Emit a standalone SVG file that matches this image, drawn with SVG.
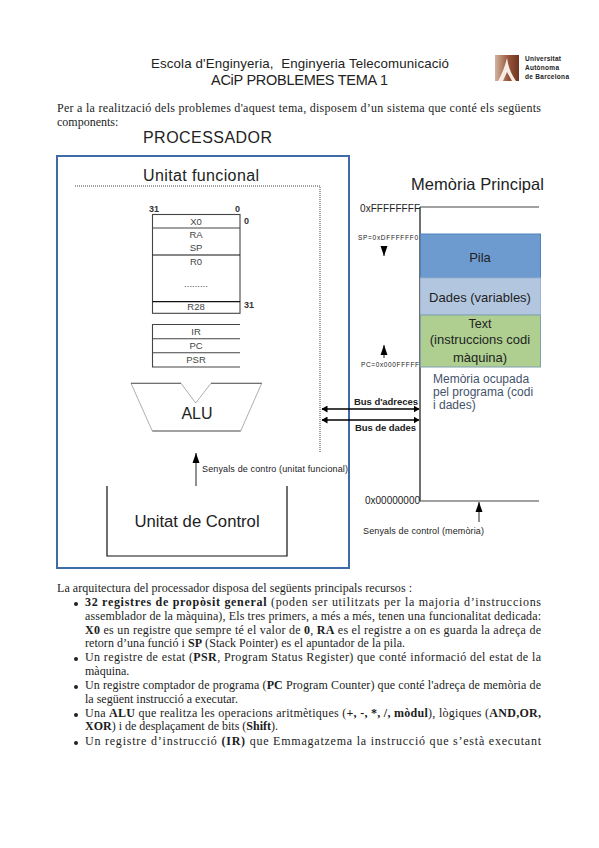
<svg xmlns="http://www.w3.org/2000/svg" width="599" height="848" viewBox="0 0 599 848">
<style>
text{fill:#222}
.s{font-family:"Liberation Sans",Arial,sans-serif}
.r{font-family:"Liberation Serif","Times New Roman",serif;font-size:12px;fill:#1c1c1c}
.c{text-anchor:middle}
.b{font-weight:bold}
.reg{font-size:9.5px;fill:#444;text-anchor:middle}
.n{font-size:9px;font-weight:bold;fill:#333}
.l{stroke:#444;stroke-width:1.1;fill:none}
.k{stroke:#111;stroke-width:1.2;fill:none}
.thin{stroke:#999;stroke-width:.8;fill:none}
.dot{stroke:#444;stroke-width:1;stroke-dasharray:1 1;fill:none}
.wire{stroke:#000;stroke-width:1.6;fill:none}
.sig{stroke:#222;stroke-width:1;fill:none}
.m{font-size:13px}
.oc{font-size:12px;fill:#44546a}
</style>
<defs>
<marker id="ah" markerUnits="userSpaceOnUse" markerWidth="7" markerHeight="7" refX="5.5" refY="3.5" orient="auto-start-reverse"><path d="M0 0L6 3.5L0 7Z" fill="#000"/></marker>
<marker id="au" markerUnits="userSpaceOnUse" markerWidth="10" markerHeight="8" refX="10" refY="4" orient="auto"><path d="M0 .5L10 4L0 7.500Z" fill="#000"/></marker>
<linearGradient id="lg" x1="0" x2="1" y1="0" y2="0"><stop offset="0" stop-color="#d3b29c"/><stop offset=".55" stop-color="#96563a"/><stop offset="1" stop-color="#6f3520"/></linearGradient>
</defs>

<g id="header">
<text class="s" x="151" y="68" font-size="13.300" textLength="298" xml:space="preserve">Escola d'Enginyeria,  Enginyeria Telecomunicació</text>
<text class="s" x="211" y="85" font-size="14.500" textLength="177">ACiP PROBLEMES TEMA 1</text>
</g>
<g id="logo">
<rect x="495" y="55" width="24" height="26" fill="url(#lg)"/>
<path d="M498 81C502 74 505 66 507 58C508 66 511 74 516 81L512 81L507 72L503 81Z" fill="#f6ece4"/>
<text class="s b" x="525" y="61" font-size="6.500" fill="#333" textLength="36">Universitat</text>
<text class="s b" x="525" y="70" font-size="6.500" fill="#333" textLength="34">Autònoma</text>
<text class="s b" x="525" y="79" font-size="6.500" fill="#333" textLength="44">de Barcelona</text>
</g>
<g id="intro">
<text class="r" x="57" y="112" textLength="484">Per a la realització dels problemes d'aquest tema, disposem d’un sistema que conté els següents</text>
<text class="r" x="57" y="126">components:</text>
</g>
<g id="processador-title"><text class="s" x="143" y="143" font-size="16" textLength="129">PROCESSADOR</text></g>

<g id="processador"><rect x="57" y="156" width="292" height="412" fill="none" stroke="#3f6ca8" stroke-width="2"/></g>
<g id="unitat-funcional">
<text class="s" x="143" y="181" font-size="16" textLength="116">Unitat funcional</text>
<path class="dot" d="M75 186H320V452"/>
</g>

<g id="registres">
<text class="s n" x="149" y="212">31</text><text class="s n" x="235" y="212">0</text>
<text class="s n" x="244" y="224">0</text><text class="s n" x="244" y="308">31</text>
<rect class="l" x="152.500" y="214.500" width="87.500" height="98.800"/>
<path class="l" d="M152.500 228H240"/>
<path class="k" d="M152.500 255H240M152.500 301.700H240" stroke-width="1"/>
<text class="s reg" x="196" y="225">X0</text><text class="s reg" x="196" y="238">RA</text><text class="s reg" x="196" y="251">SP</text><text class="s reg" x="196" y="265">R0</text>
<text class="s reg" x="196" y="287" font-size="7">.........</text><text class="s reg" x="196" y="310">R28</text>
</g>
<g id="registres-especials">
<path class="l" d="M240 324.500H152.500V367H240M152.500 338.700H240M152.500 352.700H240"/>
<text class="s reg" x="196" y="335">IR</text><text class="s reg" x="196" y="349">PC</text><text class="s reg" x="196" y="363">PSR</text>
</g>
<g id="alu">
<path class="thin" d="M131 383.300L152.300 431M181 383.300L195.700 403L211 383.300M261.700 383.300L240.700 431"/>
<path class="l" d="M131 383.300H181M211 383.300H261.700M152.300 431H240.700"/>
<text class="s c" x="197" y="419" font-size="16">ALU</text>
</g>
<g id="unitat-control">
<path class="k" d="M107 486V556H287V486" stroke-width="1"/>
<text class="s c" x="197" y="527" font-size="16.700">Unitat de Control</text>
</g>

<g id="memoria-title"><text class="s" x="411" y="190" font-size="16.500" textLength="133">Memòria Principal</text></g>
<g id="memoria">
<path class="k" d="M420 207V501"/>
<path class="l" d="M420 207H539M420 501H539" stroke-width="1.300"/>
<text class="s" x="360" y="212" font-size="10" fill="#222" textLength="60">0xFFFFFFFF</text>
<text class="s" x="365" y="504" font-size="10" fill="#333" textLength="55">0x00000000</text>
<text class="s" x="358" y="240" font-size="6.500" fill="#555" textLength="60">SP=0xDFFFFFF0</text>
<text class="s" x="361" y="367" font-size="6.500" fill="#555" textLength="58">PC=0x000FFFFF</text>
</g>
<g id="pila"><rect x="420.500" y="234" width="120" height="44" fill="#6d9bcf" stroke="#4f81bd"/><text class="s c m" x="480" y="262">Pila</text></g>
<g id="dades"><rect x="420.500" y="278" width="120" height="37" fill="#b3c6e0" stroke="#9db3d1"/><text class="s c m" x="480" y="302">Dades (variables)</text></g>
<g id="text"><rect x="420.500" y="315" width="120" height="52" fill="#aecf90" stroke="#7f9fb0"/><text class="s c" x="480" y="328" font-size="12.500">Text</text><text class="s c m" x="480" y="344">(instruccions codi</text><text class="s c m" x="480" y="362">màquina)</text></g>
<g id="memoria-ocupada">
<text class="s oc" x="433" y="383">Memòria ocupada</text>
<text class="s oc" x="433" y="396">pel programa (codi</text>
<text class="s oc" x="433" y="409">i dades)</text>
</g>
<g id="connectors">
<path class="wire" d="M322 409H419" marker-start="url(#ah)" marker-end="url(#ah)"/>
<path class="wire" d="M322 420H419" marker-start="url(#ah)" marker-end="url(#ah)"/>
<path class="sig" d="M196 486V453" marker-end="url(#au)"/>
<path class="sig" d="M479 522V502" marker-end="url(#au)"/>
<path class="sig" d="M384 250V256" marker-end="url(#au)"/>
<path class="sig" d="M384 358V345" marker-end="url(#au)"/>
</g>
<g id="connector-labels">
<text class="s b" x="354" y="405" font-size="9.500" textLength="64" fill="#222">Bus d'adreces</text>
<text class="s b" x="355" y="431" font-size="9.500" textLength="61" fill="#222">Bus de dades</text>
<text class="s" x="202" y="472" font-size="9" fill="#444" textLength="146">Senyals de contro (unitat funcional)</text>
<text class="s" x="363" y="534" font-size="9" fill="#444" textLength="121">Senyals de control (memòria)</text>
</g>

<g id="cos">
<text class="r" x="57" y="592" textLength="355">La arquitectura del processador disposa del següents principals recursos :</text>
<circle cx="76" cy="604" r="2" fill="#222"/>
<text class="r" x="85" y="606" textLength="456"><tspan class="b">32 registres de propòsit general</tspan> (poden ser utilitzats per la majoria d’instruccions</text>
<text class="r" x="85" y="620" textLength="456">assemblador de la màquina), Els tres primers, a més a més, tenen una funcionalitat dedicada:</text>
<text class="r" x="85" y="634" textLength="456"><tspan class="b">X0</tspan> es un registre que sempre té el valor de <tspan class="b">0</tspan>, <tspan class="b">RA</tspan> es el registre a on es guarda la adreça de</text>
<text class="r" x="85" y="647" textLength="320">retorn d’una funció i <tspan class="b">SP</tspan> (Stack Pointer) es el apuntador de la pila.</text>
<circle cx="76" cy="659" r="2" fill="#222"/>
<text class="r" x="85" y="661" textLength="456">Un registre de estat (<tspan class="b">PSR</tspan>, Program Status Register) que conté informació del estat de la</text>
<text class="r" x="85" y="675">màquina.</text>
<circle cx="76" cy="687" r="2" fill="#222"/>
<text class="r" x="85" y="689" textLength="456">Un registre comptador de programa (<tspan class="b">PC</tspan> Program Counter) que conté l'adreça de memòria de</text>
<text class="r" x="85" y="703">la següent instrucció a executar.</text>
<circle cx="76" cy="715" r="2" fill="#222"/>
<text class="r" x="85" y="717" textLength="456">Una <tspan class="b">ALU</tspan> que realitza les operacions aritmètiques (<tspan class="b">+, -, *, /, mòdul</tspan>), lògiques (<tspan class="b">AND,OR,</tspan></text>
<text class="r" x="85" y="730"><tspan class="b">XOR</tspan>) i de desplaçament de bits (<tspan class="b">Shift</tspan>).</text>
<circle cx="76" cy="743" r="2" fill="#222"/>
<text class="r" x="85" y="745" textLength="456">Un registre d’instrucció <tspan class="b">(IR)</tspan> que Emmagatzema la instrucció que s’està executant</text>
</g>
</svg>
